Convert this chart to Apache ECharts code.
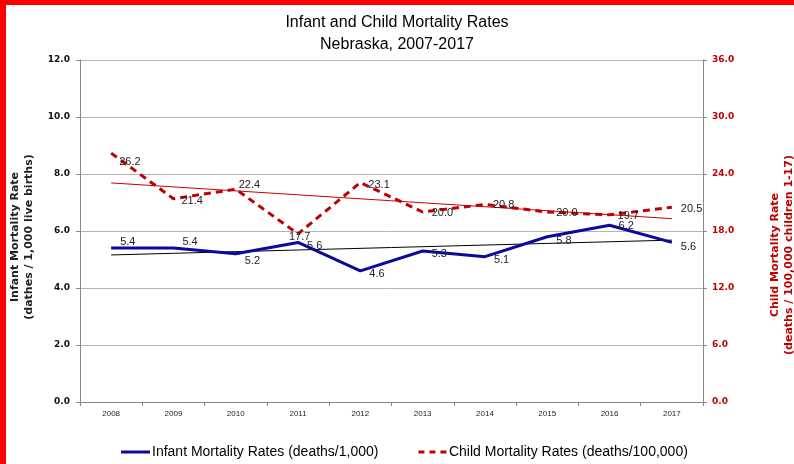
<!DOCTYPE html>
<html>
<head>
<meta charset="utf-8">
<script src="https://cdn.jsdelivr.net/npm/echarts@6/dist/echarts.min.js"></script>
<style>
html,body{margin:0;padding:0;background:#fff;}
#chart{width:794px;height:464px;}
</style>
</head>
<body>
<div id="chart"></div>
<script>
// ---- data ----
var years = ['2008','2009','2010','2011','2012','2013','2014','2015','2016','2017'];
var infantRates = [5.4, 5.4, 5.2, 5.6, 4.6, 5.3, 5.1, 5.8, 6.2, 5.6];
var childRates = [26.2, 21.4, 22.4, 17.7, 23.1, 20.0, 20.8, 20.0, 19.7, 20.5];
// trend line end values (2008, 2017)
var infantTrendEnds = [5.16, 5.68];
var childTrendEnds = [23.06, 19.30];
var leftTicks = [0, 2, 4, 6, 8, 10, 12];
var rightTicks = [0, 6, 12, 18, 24, 30, 36];

// ---- label style offsets (styling only) ----
var infantLabelOffsets = [[5,-6],[5,-6],[5,7],[5,4],[5,3],[5,3],[5,3],[5,4],[5,1],[5,5]];
var childLabelOffsets = [[4,9],[4,2],[-1,-4],[-13,3],[4,2],[5,1],[4,1],[5,1],[4,1],[5,2]];

function trendData(ends) {
  return years.map(function (y, i) {
    if (i === 0) return ends[0];
    if (i === years.length - 1) return ends[1];
    return null;
  });
}
function labelled(vals, offs) {
  return vals.map(function (v, i) {
    return { value: v, label: { offset: offs[i] } };
  });
}

var FONT = "'Liberation Sans', Arial, sans-serif";
var chart = echarts.init(document.getElementById('chart'), null, { renderer: 'canvas' });
chart.setOption({
  animation: false,
  backgroundColor: '#fff',
  graphic: [
    { type: 'rect', left: 0, top: 0, shape: { width: 6, height: 464 }, style: { fill: '#ff0000' }, z: 100 },
    { type: 'rect', left: 0, top: 0, shape: { width: 794, height: 5 }, style: { fill: '#ff0000' }, z: 100 }
  ],
  title: {
    text: 'Infant and Child Mortality Rates\nNebraska, 2007-2017',
    left: 'center',
    top: 7,
    textStyle: { fontFamily: FONT, fontSize: 16, fontWeight: 'normal', color: '#000', lineHeight: 22 }
  },
  legend: {
    bottom: 0,
    left: 116,
    itemGap: 40,
    itemWidth: 29,
    itemHeight: 3,
    data: [
      { name: 'Infant Mortality Rates (deaths/1,000)', icon: 'rect' },
      { name: 'Child Mortality Rates (deaths/100,000)', icon: 'path://M0,0h6v3h-6z M11,0h6v3h-6z M22,0h6v3h-6z' }
    ],
    textStyle: { fontFamily: FONT, fontSize: 14, color: '#000', padding: [0, 0, 0, -3] }
  },
  grid: { left: 80, right: 91, top: 60, bottom: 62, outerBoundsMode: 'none', containLabel: false },
  xAxis: {
    type: 'category',
    data: years,
    boundaryGap: true,
    axisLine: { lineStyle: { color: '#888', width: 1 } },
    axisTick: { show: true, length: 4, alignWithLabel: false, lineStyle: { color: '#888' } },
    axisLabel: { fontFamily: FONT, fontSize: 8, color: '#222', margin: 8 }
  },
  yAxis: [
    {
      type: 'value', min: leftTicks[0], max: leftTicks[leftTicks.length - 1], interval: leftTicks[1] - leftTicks[0],
      position: 'left',
      name: 'Infant Mortality Rate\n(dathes / 1,000 live births)',
      nameLocation: 'middle', nameRotate: 90, nameGap: 44,
      nameTextStyle: { fontFamily: "'DejaVu Sans', sans-serif", fontSize: 11, fontWeight: 'bold', color: '#222', lineHeight: 14,
        padding: [0, 12, 0, 0] },
      axisLine: { show: true, lineStyle: { color: '#888' } },
      axisTick: { show: true, length: 4, lineStyle: { color: '#888' } },
      splitLine: { show: true, lineStyle: { color: '#b4b4b4', width: 1 } },
      axisLabel: { fontFamily: "'DejaVu Sans', sans-serif", fontSize: 9, fontWeight: 'bold', color: '#111', margin: 10,
        formatter: function (v) { return v.toFixed(1); } }
    },
    {
      type: 'value', min: rightTicks[0], max: rightTicks[rightTicks.length - 1], interval: rightTicks[1] - rightTicks[0],
      position: 'right',
      name: 'Child Mortality Rate\n(deaths / 100,000 children 1-17)',
      nameLocation: 'middle', nameRotate: 90, nameGap: 65,
      nameTextStyle: { fontFamily: "'DejaVu Sans', sans-serif", fontSize: 11, fontWeight: 'bold', color: '#c00000', lineHeight: 14,
        padding: [0, 48, 0, 0] },
      axisLine: { show: true, lineStyle: { color: '#888' } },
      axisTick: { show: true, length: 4, lineStyle: { color: '#888' } },
      splitLine: { show: false },
      axisLabel: { fontFamily: "'DejaVu Sans', sans-serif", fontSize: 9, fontWeight: 'bold', color: '#c00000', margin: 9,
        formatter: function (v) { return v.toFixed(1); } }
    }
  ],
  series: [
    {
      name: 'Infant Trend', type: 'line', yAxisIndex: 0, data: trendData(infantTrendEnds),
      connectNulls: true, symbol: 'none', silent: true, z: 1,
      lineStyle: { color: '#000', width: 1 }
    },
    {
      name: 'Child Trend', type: 'line', yAxisIndex: 1, data: trendData(childTrendEnds),
      connectNulls: true, symbol: 'none', silent: true, z: 1,
      lineStyle: { color: '#d00000', width: 1 }
    },
    {
      name: 'Infant Mortality Rates (deaths/1,000)', type: 'line', yAxisIndex: 0,
      data: labelled(infantRates, infantLabelOffsets),
      symbol: 'circle', symbolSize: 0, showSymbol: true, z: 3,
      itemStyle: { color: '#0a0a9c' },
      lineStyle: { color: '#0a0a9c', width: 3 },
      label: { show: true, position: 'right', distance: 4, fontFamily: FONT, fontSize: 11, color: '#222',
        formatter: function (p) { return p.value.toFixed(1); } }
    },
    {
      name: 'Child Mortality Rates (deaths/100,000)', type: 'line', yAxisIndex: 1,
      data: labelled(childRates, childLabelOffsets),
      symbol: 'circle', symbolSize: 0, showSymbol: true, z: 2,
      itemStyle: { color: '#c00000' },
      lineStyle: { color: '#c00000', width: 3, type: [7, 5] },
      label: { show: true, position: 'right', distance: 4, fontFamily: FONT, fontSize: 11, color: '#222',
        formatter: function (p) { return p.value.toFixed(1); } }
    }
  ]
});
</script>
</body>
</html>
